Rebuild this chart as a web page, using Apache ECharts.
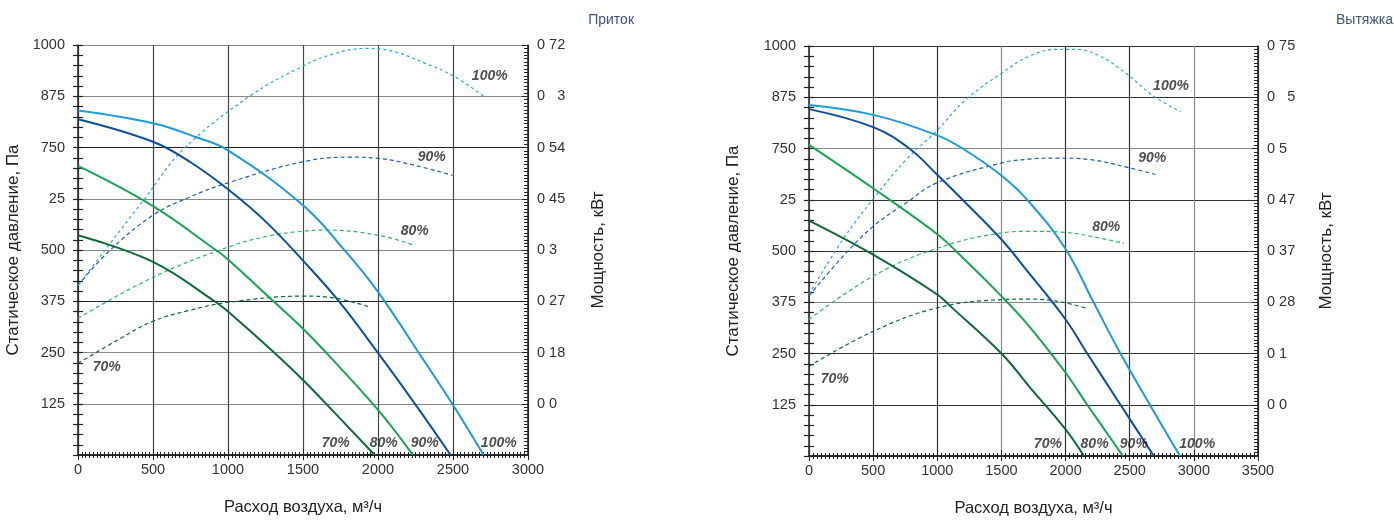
<!DOCTYPE html>
<html><head><meta charset="utf-8">
<script src="https://cdn.jsdelivr.net/npm/echarts@6/dist/echarts.min.js"></script>
<style>html,body{margin:0;padding:0;background:#fff}#c{width:1394px;height:525px}</style>
</head><body><div id="c"></div>
<script>
// ---- tick labels (as printed in the reference) ----
const pressureLabels = ['', '125', '250', '375', '500', '25', '750', '875', '1000'];
const inPowerLabels = ['', '0 0', '0 18', '0 27', '0 3', '0 45', '0 54', '0   3', '0 72'];
const outPowerLabels = ['', '0 0', '0 1', '0 28', '0 37', '0 47', '0 5', '0   5', '0 75'];
const inFlowLabels = ['0', '500', '1000', '1500', '2000', '2500', '3000'];
const outFlowLabels = ['0', '500', '1000', '1500', '2000', '2500', '3000', '3500'];
const speeds = ['70%', '80%', '90%', '100%'];

// ---- Приток: static pressure [airflow m3/h, Pa] ----
const inP70 = [[0,536],[500,471],[922,372],[1000,350],[1311,249],[1500,183],[1656,124],[1978,0]];
const inP80 = [[0,705],[500,607],[922,499],[1000,477],[1300,376],[1500,308],[1656,249],[2000,110],[2233,0]];
const inP90 = [[0,819],[500,764],[750,714],[1000,648],[1255,568],[1500,474],[1744,373],[2000,249],[2256,120],[2484,0]];
const inP100 = [[0,840],[500,809],[789,775],[1000,743],[1500,609],[1778,499],[2000,398],[2267,252],[2500,122],[2704,0]];
// ---- Приток: power [airflow, kW] ----
const inW70 = [[0,0.161],[278,0.204],[500,0.235],[744,0.254],[1000,0.268],[1500,0.279],[1700,0.276],[1944,0.260]];
const inW80 = [[0,0.240],[500,0.312],[1000,0.365],[1278,0.385],[1500,0.393],[1656,0.395],[2000,0.386],[2244,0.368]];
const inW90 = [[0,0.298],[211,0.359],[500,0.421],[744,0.453],[1000,0.478],[1500,0.515],[1811,0.523],[2000,0.521],[2256,0.508],[2496,0.491]];
const inW100 = [[0,0.298],[444,0.450],[700,0.536],[1144,0.630],[1500,0.683],[1700,0.704],[1922,0.714],[2100,0.709],[2322,0.687],[2500,0.666],[2711,0.629]];

// ---- Вытяжка: static pressure ----
const outP70 = [[0,574],[500,491],[1000,394],[1093,368],[1500,250],[1715,170],[2000,65],[2143,0]];
const outP80 = [[0,759],[500,653],[1000,541],[1145,500],[1500,390],[1715,317],[2000,203],[2169,125],[2447,0]];
const outP90 = [[0,846],[500,802],[782,750],[1000,686],[1197,625],[1500,528],[1715,446],[2000,333],[2169,250],[2428,125],[2688,0]];
const outP100 = [[0,856],[500,832],[1000,782],[1197,750],[1500,684],[1715,620],[2000,505],[2221,373],[2428,250],[2657,125],[2891,0]];
// ---- Вытяжка: power ----
const outW70 = [[0,0.164],[500,0.228],[1000,0.271],[1500,0.286],[1715,0.287],[1935,0.283],[2156,0.271]];
const outW80 = [[0,0.250],[500,0.329],[1000,0.380],[1500,0.408],[1715,0.411],[2000,0.409],[2195,0.402],[2455,0.389]];
const outW90 = [[0,0.293],[264,0.365],[500,0.420],[757,0.463],[1000,0.500],[1500,0.536],[1715,0.543],[1935,0.545],[2195,0.542],[2500,0.527],[2701,0.515]];
const outW100 = [[0,0.296],[264,0.396],[500,0.470],[757,0.542],[1000,0.596],[1223,0.652],[1500,0.700],[1715,0.731],[1935,0.744],[2065,0.744],[2247,0.734],[2455,0.703],[2688,0.658],[2896,0.630]];

// ---- curve labels [airflow, Pa] ----
const inLabelPos = [[2745,924],[2358,727],[2245,546],[191,215],[1718,29],[2038,29],[2311,29],[2805,29]];
const outLabelPos = [[2822,901],[2675,726],[2317,558],[200,188],[1862,28],[2226,28],[2532,28],[3026,28]];
const labelText = ['100%','90%','80%','70%','70%','80%','90%','100%'];

const solidColors = ['#0b6a35', '#16a552', '#0b4f9f', '#1b9bd9'];
const dashColors = ['#0b6a35', '#2fb564', '#1a5fb0', '#2aa6e0'];
const FONT = 'Liberation Sans, Arial, sans-serif';

function xAxes(gi, max, minorSplit, splitColors, flowLabels) {
  return [{
    type: 'value', gridIndex: gi, min: 0, max: max, interval: 500, position: 'bottom',
    name: 'Расход воздуха, м³/ч', nameLocation: 'middle', nameGap: 44,
    nameTextStyle: { fontSize: 16.5, color: '#222', fontFamily: FONT },
    axisLine: { show: true, lineStyle: { color: '#222', width: 1.5 } },
    axisTick: { show: true, inside: true, length: 6, lineStyle: { color: '#222' } },
    minorTick: { show: true, splitNumber: minorSplit, length: 3, lineStyle: { color: '#222' } },
    axisLabel: { fontSize: 14.5, color: '#333', margin: 7, fontFamily: FONT,
      formatter: v => flowLabels[Math.round(v / 500)] },
    splitLine: { show: true, lineStyle: { color: splitColors, width: 1.2 } }
  }, {
    type: 'value', gridIndex: gi, min: 0, max: max, interval: 500, position: 'top',
    axisLine: { show: true, lineStyle: { color: '#222', width: 1.5 } },
    axisTick: { show: true, inside: true, length: 5, lineStyle: { color: '#222' } },
    minorTick: { show: true, splitNumber: minorSplit, length: 3, lineStyle: { color: '#222' } },
    axisLabel: { show: false }, splitLine: { show: false }
  }];
}
function yAxes(gi, pmax, pinterval, powerLabels, splitColors, leftGap, rightGap) {
  return [{
    type: 'value', gridIndex: gi, min: 0, max: 1000, interval: 125, position: 'left',
    name: 'Статическое давление, Па', nameLocation: 'middle', nameGap: leftGap,
    nameTextStyle: { fontSize: 17, color: '#222', fontFamily: FONT },
    axisLine: { show: true, lineStyle: { color: '#222', width: 1.5 } },
    axisTick: { show: true, inside: false, length: 5, lineStyle: { color: '#222', width: 1.2 } },
    minorTick: { show: true, splitNumber: 5, length: 5, lineStyle: { color: '#222', width: 1.2 } },
    axisLabel: { fontSize: 14.5, color: '#333', margin: 13, fontFamily: FONT,
      formatter: v => pressureLabels[Math.round(v / 125)] },
    splitLine: { show: true, lineStyle: { color: splitColors, width: 1.2 } }
  }, {
    type: 'value', gridIndex: gi, min: 0, max: 1000, interval: 125, position: 'left',
    axisLine: { show: false },
    axisTick: { show: true, inside: true, length: 5, lineStyle: { color: '#222', width: 1.2 } },
    minorTick: { show: true, splitNumber: 5, length: 5, lineStyle: { color: '#222', width: 1.2 } },
    axisLabel: { show: false }, splitLine: { show: false }
  }, {
    type: 'value', gridIndex: gi, min: 0, max: pmax, interval: pinterval, position: 'right',
    name: 'Мощность, кВт', nameLocation: 'middle', nameGap: rightGap,
    nameTextStyle: { fontSize: 17, color: '#222', fontFamily: FONT },
    axisLine: { show: true, lineStyle: { color: '#222', width: 1.5 } },
    axisTick: { show: true, inside: true, length: 6, lineStyle: { color: '#222' } },
    minorTick: { show: true, splitNumber: 15, length: 4, lineStyle: { color: '#222' } },
    axisLabel: { fontSize: 14.5, color: '#333', margin: 9, fontFamily: FONT, align: 'left',
      formatter: v => powerLabels[Math.round(v / pinterval)] || '' },
    splitLine: { show: false }
  }];
}
function curve(data, color, xi, yi, dashed, dashPattern) {
  return {
    type: 'line', data: data, xAxisIndex: xi, yAxisIndex: yi, showSymbol: false, symbol: 'none',
    smooth: 0.4, silent: true, z: dashed ? 3 : 4,
    lineStyle: { color: color, width: dashed ? 1.2 : 2, type: dashed ? dashPattern : 'solid' }
  };
}
function labels(pos, xi, yi) {
  return {
    type: 'scatter', xAxisIndex: xi, yAxisIndex: yi, symbolSize: 0, silent: true, z: 6,
    data: pos.map((p, i) => ({ value: p, name: labelText[i] })),
    label: { show: true, position: 'inside', formatter: p => p.name,
      fontSize: 14, fontWeight: 'bold', fontStyle: 'italic', color: '#222', fontFamily: FONT }
  };
}

const inP = [inP70, inP80, inP90, inP100], inW = [inW70, inW80, inW90, inW100];
const outP = [outP70, outP80, outP90, outP100], outW = [outW70, outW80, outW90, outW100];
const series = [];
speeds.forEach((s, i) => {
  const dp = i === 3 ? [3, 3] : [4, 3];
  series.push(curve(inW[i], dashColors[i], 0, 2, true, dp));
  series.push(curve(inP[i], solidColors[i], 0, 0, false));
  series.push(curve(outW[i], dashColors[i], 2, 5, true, dp));
  series.push(curve(outP[i], solidColors[i], 2, 3, false));
});
series.push(labels(inLabelPos, 0, 0));
series.push(labels(outLabelPos, 2, 3));

const chart = echarts.init(document.getElementById('c'), null, { renderer: 'canvas' });
chart.setOption({
  animation: false,
  backgroundColor: '#fff',
  title: [
    { text: 'Приток', right: 1394 - 639, top: 8, textStyle: { fontSize: 14, fontWeight: 'normal', color: '#3a5680', fontFamily: FONT } },
    { text: 'Вытяжка', right: -4, top: 8, textStyle: { fontSize: 14, fontWeight: 'normal', color: '#3a5680', fontFamily: FONT } }
  ],
  grid: [
    { left: 78, top: 45, width: 450, height: 410 },
    { left: 809, top: 46, width: 449, height: 410 }
  ],
  xAxis: [].concat(xAxes(0, 3000, 20, ['#444'], inFlowLabels), xAxes(1, 3500, 16, ['#888', '#333', '#333'], outFlowLabels)),
  yAxis: [].concat(
    yAxes(0, 0.72, 0.09, inPowerLabels, ['#222', '#888', '#888'], 56, 62),
    yAxes(1, 0.75, 0.09375, outPowerLabels, ['#888', '#333', '#333'], 67, 60)
  ),
  series: series
});
</script></body></html>
